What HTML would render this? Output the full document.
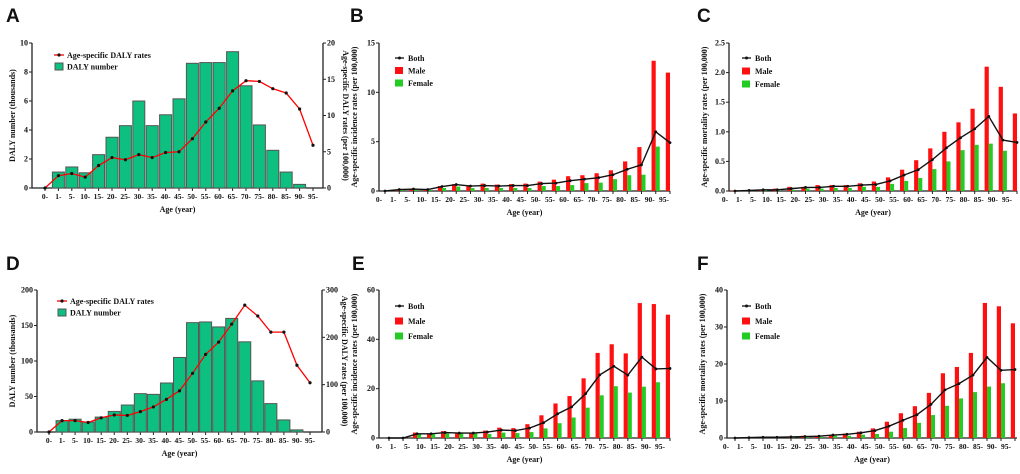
<!DOCTYPE html>
<html><head><meta charset="utf-8"><style>
body{margin:0;background:#fff}
svg text{font-family:"Liberation Serif",serif;font-weight:bold;fill:#111}
.lt{font-family:"Liberation Sans",sans-serif;font-weight:bold;font-size:19px}
</style></head><body>
<svg id="fig" width="1020" height="469" viewBox="0 0 1020 469" xmlns="http://www.w3.org/2000/svg"></svg>
<script>
const ageLabels=["0-","1-","5-","10-","15-","20-","25-","30-","35-","40-","45-","50-","55-","60-","65-","70-","75-","80-","85-","90-","95-"];
const dalyNumA=[0,1.1,1.45,1.05,2.3,3.5,4.3,6.0,4.3,5.05,6.15,8.6,8.65,8.65,9.4,7.05,4.35,2.6,1.1,0.25,0];
const dalyRateA=[0,1.7,2.0,1.5,3.1,4.2,3.9,4.6,4.2,4.9,5.0,6.8,9.1,11.0,13.4,14.8,14.7,13.7,13.1,10.9,5.9];
const dalyNumD=[0,16,18,14,21,29,38,54,53,69,105,154,155,148,160,127,72,40,17,3,0];
const dalyRateD=[0,24,24,20,30,36,35,43,53,69,87,124,164,190,228,268,245,211,211,141,104];
const maleB=[0,0.15,0.25,0.2,0.5,0.7,0.55,0.75,0.65,0.7,0.75,0.95,1.15,1.5,1.6,1.8,2.1,3.0,4.45,13.2,12.0];
const femaleB=[0,0.1,0.15,0.1,0.3,0.45,0.3,0.3,0.3,0.3,0.3,0.5,0.5,0.6,0.8,0.85,1.2,1.6,1.65,4.5,0];
const bothB=[0,0.15,0.2,0.15,0.45,0.65,0.5,0.55,0.5,0.55,0.55,0.75,0.8,1.05,1.2,1.35,1.65,2.2,2.65,6.0,4.9];
const maleC=[0.01,0.01,0.02,0.04,0.07,0.07,0.1,0.1,0.1,0.13,0.16,0.23,0.36,0.52,0.72,1.0,1.16,1.39,2.1,1.76,1.31];
const femaleC=[0,0.005,0.01,0.01,0.02,0.04,0.04,0.05,0.05,0.07,0.07,0.12,0.17,0.22,0.37,0.5,0.69,0.78,0.8,0.68,0];
const bothC=[0,0.01,0.02,0.02,0.04,0.06,0.06,0.08,0.08,0.1,0.11,0.17,0.27,0.36,0.53,0.73,0.9,1.05,1.26,0.86,0.82];
const maleE=[0,0,2.2,1.8,2.8,2.2,2.2,3.0,4.2,4.0,5.6,9.2,14.0,17.0,24.2,34.5,38.0,34.3,54.7,54.3,50];
const femaleE=[0,0,1.8,1.5,1.8,1.8,1.8,1.6,2.2,2.0,2.4,3.9,6.0,8.3,12.3,17.3,21.0,18.4,20.8,22.6,0];
const bothE=[0,0,1.7,1.7,2.2,2.0,2.0,2.4,3.2,3.0,4.0,6.2,9.8,12.6,18.0,25.6,29.1,25.5,32.8,28.0,28.2];
const maleF=[0,0,0,0.1,0.2,0.6,0.5,0.8,1.2,1.7,2.6,4.4,6.7,8.6,12.2,17.5,19.2,23.0,36.5,35.6,31.0];
const femaleF=[0,0,0,0,0.1,0.3,0.3,0.6,0.6,0.9,1.1,1.7,2.7,4.1,6.2,8.7,10.7,12.4,13.9,14.8,0];
const bothF=[0,0.1,0.2,0.2,0.3,0.4,0.5,0.8,1.0,1.4,2.0,3.2,4.8,6.3,9.1,13.0,14.7,17.0,21.8,18.3,18.5];
const ticksA=[0,2,4,6,8,10], ticksAR=[0,5,10,15,20];
const ticksD=[0,50,100,150,200], ticksDR=[0,100,200,300];
const ticksB=[0,5,10,15], ticksC=[0,0.5,1.0,1.5,2.0,2.5], ticksE=[0,20,40,60], ticksF=[0,10,20,30,40];

const S="http://www.w3.org/2000/svg", svg=document.getElementById('fig');
function mk(tag,attrs,parent,txt){const e=document.createElementNS(S,tag);for(const k in attrs)e.setAttribute(k,attrs[k]);if(txt!=null)e.textContent=txt;(parent||svg).appendChild(e);return e;}

function axes(g,p,ticks,ymax,fmt){
  const y=v=>p.bottom-(v/ymax)*(p.bottom-p.top);
  const ax=mk('path',{d:`M${p.left},${p.top}V${p.bottom}H${p.right}`,stroke:'#222','stroke-width':1.3,fill:'none'},g);
  
  
  ticks.forEach(t=>{
    mk('line',{x1:p.left-3,x2:p.left,y1:y(t),y2:y(t),stroke:'#222'},g);
    const tl=mk('text',{x:p.left-4,y:y(t)+2.5,'font-size':8,'text-anchor':'end'},g,fmt?t.toFixed(1):t);
    
    
  });
  ageLabels.forEach((l,i)=>{
    const x=p.g0+i*p.step;
    mk('line',{x1:x,x2:x,y1:p.bottom,y2:p.bottom+3,stroke:'#222'},g);
    const tl=mk('text',{x:x+p.lo,y:p.bottom+11,'font-size':7.5,'text-anchor':'middle'},g,l);
    
    
  });
  const xt=mk('text',{x:(p.left+p.right)/2,y:p.bottom+24,'font-size':8,'text-anchor':'middle'},g,'Age (year)');
  
  
  return y;
}
function letter(g,t,x,y){const e=mk('text',{x:x,y:y,class:'lt'},g,t);}
function vtitle(g,t,x,y,rot){const e=mk('text',{x:0,y:0,'font-size':8,'text-anchor':'middle',transform:`translate(${x},${y}) rotate(${rot})`},g,t);}

function dalyPanel(name,p,nums,rates,ticks,ymax,rticks,rmax,L,lx,ly){
  const g=mk('g',{});
  letter(g,L,p.lx,p.ly);
  const y=axes(g,p,ticks,ymax);
  const yr=v=>p.bottom-(v/rmax)*(p.bottom-p.top);
  mk('line',{x1:p.right,x2:p.right,y1:p.top,y2:p.bottom,stroke:'#222','stroke-width':1.3},g);
  rticks.forEach(t=>{mk('line',{x1:p.right,x2:p.right+3,y1:yr(t),y2:yr(t),stroke:'#222'},g);
    const tl=mk('text',{x:p.right+4,y:yr(t)+2.5,'font-size':8},g,t);});
  nums.forEach((v,i)=>{const x=p.g0+i*p.step;if(v<=0)return;
    const b=mk('rect',{x:x-6,y:y(v),width:12,height:p.bottom-y(v),fill:'#0dc07f',stroke:'#555','stroke-width':1},g);
    });
  const pts=rates.map((v,i)=>`${p.g0+i*p.step},${yr(v)}`).join(' ');
  const ln=mk('polyline',{points:pts,fill:'none',stroke:'#f00','stroke-width':1.3},g);
  
  rates.forEach((v,i)=>{const c=mk('circle',{cx:p.g0+i*p.step,cy:yr(v),r:1.6,fill:'#111'},g);});
  vtitle(g,'DALY number  (thousands)',15,(p.top+p.bottom)/2,-90);
  vtitle(g,'Age-specific DALY rates (per 100,000)',p.right+20,(p.top+p.bottom)/2,90);
  const lg=mk('g',{},g);
  mk('line',{x1:lx,x2:lx+10,y1:ly,y2:ly,stroke:'#f00','stroke-width':1.3},lg);mk('circle',{cx:lx+5,cy:ly,r:1.6,fill:'#111'},lg);
  mk('text',{x:lx+13,y:ly+3,'font-size':8},lg,'Age-specific DALY rates');
  mk('rect',{x:lx+1,y:ly+8,width:8,height:7,fill:'#0dc07f',stroke:'#555'},lg);
  mk('text',{x:lx+13,y:ly+14.5,'font-size':8},lg,'DALY number');
}
function sexPanel(name,p,male,female,both,ticks,ymax,title,L,lx,ly,fmt){
  const g=mk('g',{});
  letter(g,L,p.lx,p.ly);
  const y=axes(g,p,ticks,ymax,fmt);
  male.forEach((v,i)=>{if(v<=0)return;const x=p.g0+i*p.step;
    const b=mk('rect',{x:x-4.2,y:y(v),width:4.2,height:p.bottom-y(v),fill:'#ff1010'},g);});
  female.forEach((v,i)=>{if(v<=0)return;const x=p.g0+i*p.step;
    const b=mk('rect',{x:x,y:y(v),width:4,height:p.bottom-y(v),fill:'#22cc22'},g);});
  const ln=mk('polyline',{points:both.map((v,i)=>`${p.g0+i*p.step},${y(v)}`).join(' '),fill:'none',stroke:'#111','stroke-width':1.4},g);
  
  both.forEach((v,i)=>{const c=mk('circle',{cx:p.g0+i*p.step,cy:y(v),r:1.4,fill:'#111'},g);});
  vtitle(g,title,p.left-22,(p.top+p.bottom)/2,-90);
  const lg=mk('g',{},g);
  mk('line',{x1:lx,x2:lx+9,y1:ly,y2:ly,stroke:'#111','stroke-width':1.3},lg);mk('circle',{cx:lx+4.5,cy:ly,r:1.5,fill:'#111'},lg);
  mk('text',{x:lx+13,y:ly+3,'font-size':8},lg,'Both');
  mk('rect',{x:lx,y:ly+p.lg-3.5,width:8,height:7,fill:'#ff1010'},lg);
  mk('text',{x:lx+13,y:ly+p.lg+3,'font-size':8},lg,'Male');
  mk('rect',{x:lx,y:ly+2*p.lg-3.5,width:8,height:7,fill:'#22cc22'},lg);
  mk('text',{x:lx+13,y:ly+2*p.lg+3,'font-size':8},lg,'Female');
}
dalyPanel('panel-a',{left:32,right:323,top:43,bottom:188,g0:45,step:13.4,lo:0,lx:6,ly:22},dalyNumA,dalyRateA,ticksA,10,ticksAR,20,'A',54,55);
dalyPanel('panel-d',{left:37,right:322,top:290,bottom:432,g0:49,step:13.05,lo:0,lx:6,ly:270},dalyNumD,dalyRateD,ticksD,200,ticksDR,300,'D',57,301);
sexPanel('panel-b',{left:379,right:670,top:43,bottom:191,g0:385,step:14.25,lo:-6,lx:350,ly:22,lg:12.5},maleB,femaleB,bothB,ticksB,15,'Age-specific incidence rates (per 100,000)','B',395,58);
sexPanel('panel-c',{left:729,right:1017,top:43,bottom:191,g0:735,step:14.1,lo:-10,lx:697,ly:22,lg:13},maleC,femaleC,bothC,ticksC,2.5,'Age-specific mortality rates (per 100,000)','C',742,58,true);
sexPanel('panel-e',{left:379,right:670,top:290,bottom:438,g0:389,step:14.05,lo:-10,lx:352,ly:270,lg:15},maleE,femaleE,bothE,ticksE,60,'Age-specific incidence rates (per 100,000)','E',395,306);
sexPanel('panel-f',{left:727,right:1017,top:290,bottom:438,g0:735,step:14.0,lo:-9,lx:697,ly:270,lg:15},maleF,femaleF,bothF,ticksF,40,'Age-specific mortality rates (per 100,000)','F',742,306);
</script>
</body></html>
